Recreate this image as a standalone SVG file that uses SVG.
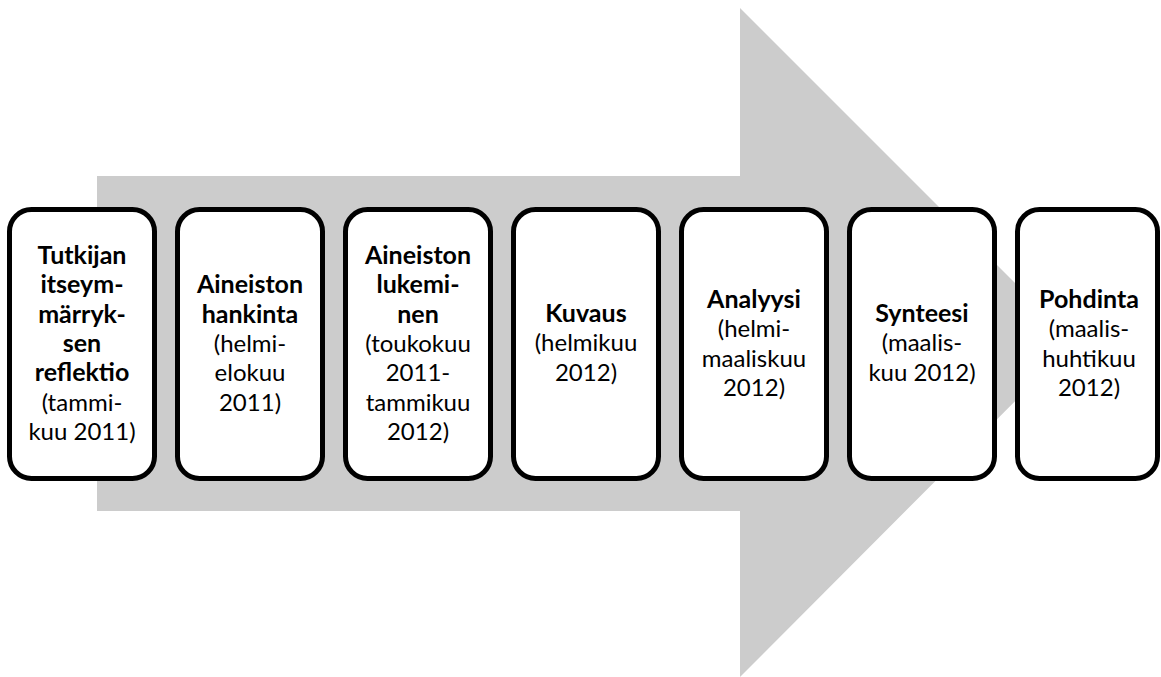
<svg xmlns="http://www.w3.org/2000/svg" width="1161" height="677" viewBox="0 0 1161 677">
<style>
.box{fill:#ffffff;stroke:#000000;stroke-width:5}
text{font-family:Lato,"Open Sans","Liberation Sans",sans-serif;font-size:24px;fill:#000000;text-anchor:middle}
.b{font-weight:bold;font-size:25px}
</style>
<rect width="1161" height="677" fill="#ffffff"/>
<g id="arrow">
<polygon points="97,176 740,176 740,8 1074,342 740,677 740,511 97,511" fill="#cccccc"/>
</g>
<g id="n1">
<rect class="box" x="9.5" y="209.5" width="145" height="269" rx="22"/>
<text x="82" y="264"><tspan class="b" x="82">Tutkijan</tspan><tspan class="b" x="82" dy="29.3">itseym-</tspan><tspan class="b" x="82" dy="29.3">märryk-</tspan><tspan class="b" x="82" dy="29.3">sen</tspan><tspan class="b" x="82" dy="29.3">reflektio</tspan><tspan x="82" dy="29.3">(tammi-</tspan><tspan x="82" dy="29.3">kuu 2011)</tspan></text>
</g>
<g id="n2">
<rect class="box" x="177.5" y="209.5" width="145" height="269" rx="22"/>
<text x="250" y="293.4"><tspan class="b" x="250">Aineiston</tspan><tspan class="b" x="250" dy="29.3">hankinta</tspan><tspan x="250" dy="29.3">(helmi-</tspan><tspan x="250" dy="29.3">elokuu</tspan><tspan x="250" dy="29.3">2011)</tspan></text>
</g>
<g id="n3">
<rect class="box" x="345.5" y="209.5" width="145" height="269" rx="22"/>
<text x="418" y="264"><tspan class="b" x="418">Aineiston</tspan><tspan class="b" x="418" dy="29.3">lukemi-</tspan><tspan class="b" x="418" dy="29.3">nen</tspan><tspan x="418" dy="29.3">(toukokuu</tspan><tspan x="418" dy="29.3">2011-</tspan><tspan x="418" dy="29.3">tammikuu</tspan><tspan x="418" dy="29.3">2012)</tspan></text>
</g>
<g id="n4">
<rect class="box" x="513.5" y="209.5" width="145" height="269" rx="22"/>
<text x="586" y="322"><tspan class="b" x="586">Kuvaus</tspan><tspan x="586" dy="29.3">(helmikuu</tspan><tspan x="586" dy="29.3">2012)</tspan></text>
</g>
<g id="n5">
<rect class="box" x="681.5" y="209.5" width="145" height="269" rx="22"/>
<text x="754" y="308"><tspan class="b" x="754">Analyysi</tspan><tspan x="754" dy="29.3">(helmi-</tspan><tspan x="754" dy="29.3">maaliskuu</tspan><tspan x="754" dy="29.3">2012)</tspan></text>
</g>
<g id="n6">
<rect class="box" x="849.5" y="209.5" width="145" height="269" rx="22"/>
<text x="922" y="322"><tspan class="b" x="922">Synteesi</tspan><tspan x="922" dy="29.3">(maalis-</tspan><tspan x="922" dy="29.3">kuu 2012)</tspan></text>
</g>
<g id="n7">
<rect class="box" x="1017.5" y="209.5" width="140" height="269" rx="22"/>
<text x="1089" y="308"><tspan class="b" x="1089">Pohdinta</tspan><tspan x="1089" dy="29.3">(maalis-</tspan><tspan x="1089" dy="29.3">huhtikuu</tspan><tspan x="1089" dy="29.3">2012)</tspan></text>
</g>
<g id="connectors"></g>
</svg>
